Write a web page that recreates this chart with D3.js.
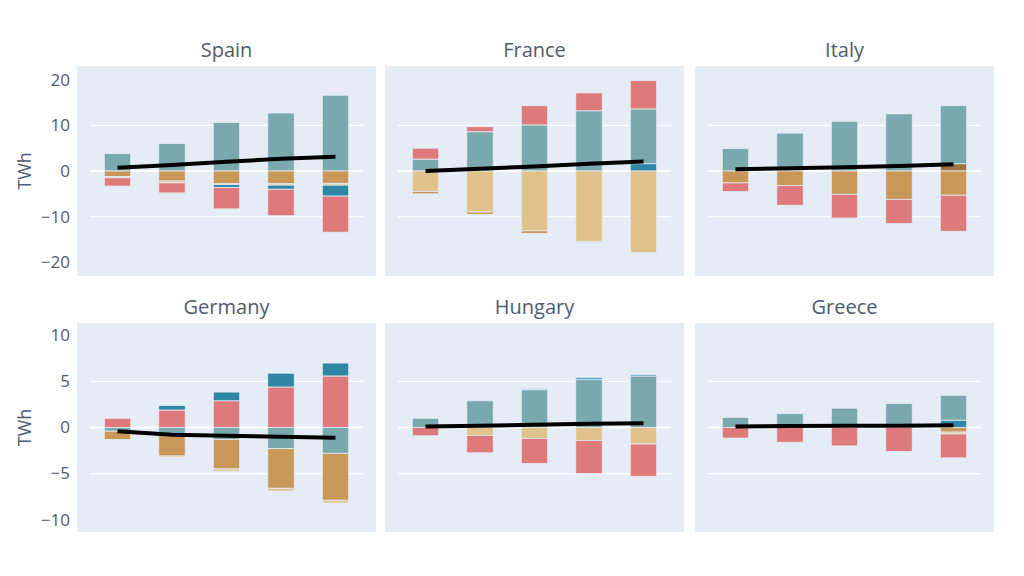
<!DOCTYPE html>
<html>
<head>
<meta charset="utf-8">
<script src="https://cdn.jsdelivr.net/npm/d3@7/dist/d3.min.js"></script>
<style>
  html, body { margin: 0; padding: 0; background: #ffffff; }
  svg { display: block; font-family: "Open Sans", "DejaVu Sans", sans-serif; }
</style>
</head>
<body>
<svg id="chart" width="1024" height="576"></svg>
<script>
// ---------------- data ----------------
const categories = ["1", "2", "3", "4", "5"];
const countries = ["Spain", "France", "Italy", "Germany", "Hungary", "Greece"];

const seriesColors = {
  teal: "#79a9ad",
  red: "#de7a7c",
  ochre: "#c99858",
  sand: "#e0c28c",
  blue: "#2f86a5",
  brown: "#9c7443"
};

// stacked in listed order (positives upward, negatives downward)
const spain = [
  ["teal",  [3.8, 6.0, 10.6, 12.7, 16.6]],
  ["ochre", [-1.2, -2.2, -2.8, -2.8, -2.7]],
  ["sand",  [-0.3, -0.4, -0.2, -0.3, -0.4]],
  ["blue",  [0, 0, -0.6, -0.9, -2.4]],
  ["red",   [-1.8, -2.2, -4.7, -5.8, -7.9]]
];
const france = [
  ["blue",  [0, 0, 0, 0, 1.6]],
  ["teal",  [2.6, 8.6, 10.1, 13.2, 12.0]],
  ["red",   [2.4, 1.1, 4.2, 3.9, 6.2]],
  ["sand",  [-4.5, -9.0, -13.1, -15.4, -17.9]],
  ["ochre", [-0.5, -0.5, -0.6, -0.2, -0.2]]
];
const italy = [
  ["brown", [0, 0, 0, 0, 1.6]],
  ["teal",  [4.9, 8.3, 10.9, 12.5, 12.7]],
  ["ochre", [-2.6, -3.2, -5.1, -6.2, -5.3]],
  ["red",   [-1.9, -4.3, -5.2, -5.3, -7.9]]
];
const germany = [
  ["red",   [1.0, 1.9, 2.9, 4.4, 5.6]],
  ["blue",  [0, 0.5, 0.95, 1.5, 1.4]],
  ["teal",  [-0.4, -0.9, -1.3, -2.3, -2.8]],
  ["ochre", [-0.9, -2.2, -3.2, -4.3, -5.1]],
  ["sand",  [0, -0.15, -0.25, -0.3, -0.3]]
];
const hungary = [
  ["teal",  [1.0, 2.9, 4.1, 5.2, 5.6]],
  ["blue",  [0, 0, 0.1, 0.2, 0.15]],
  ["sand",  [0, -0.85, -1.2, -1.4, -1.8]],
  ["red",   [-0.9, -1.9, -2.7, -3.6, -3.5]]
];
const greece = [
  ["blue",  [0, 0, 0, 0, 0.8]],
  ["teal",  [1.1, 1.5, 2.1, 2.6, 2.7]],
  ["ochre", [0, 0, 0, 0, -0.5]],
  ["sand",  [0, 0, 0, 0, -0.2]],
  ["red",   [-1.15, -1.6, -2.0, -2.6, -2.6]]
];

const netSpain   = [0.7, 1.3, 2.0, 2.7, 3.1];
const netFrance  = [0.0, 0.5, 1.0, 1.6, 2.1];
const netItaly   = [0.4, 0.6, 0.8, 1.1, 1.5];
const netGermany = [-0.4, -0.8, -0.9, -1.0, -1.1];
const netHungary = [0.1, 0.2, 0.3, 0.4, 0.45];
const netGreece  = [0.1, 0.15, 0.2, 0.2, 0.25];

const topTicks = [-20, -10, 0, 10, 20];
const bottomTicks = [-10, -5, 0, 5, 10];
const yLabel = "TWh";

// ---------------- layout ----------------
const stacks = [spain, france, italy, germany, hungary, greece];
const nets = [netSpain, netFrance, netItaly, netGermany, netHungary, netGreece];

const colX = [77, 385, 695];
const panelW = 299;
const rows = [
  { top: 66, bottom: 276, domain: [-23, 23], ticks: topTicks, grid: [-10, 10] },
  { top: 323, bottom: 532, domain: [-11.35, 11.35], ticks: bottomTicks, grid: [-5, 5] }
];
const textColor = "#4f5b6e";
const bg = "#e5ecf6";

const svg = d3.select("#chart");

countries.forEach((name, ci) => {
  const row = rows[Math.floor(ci / 3)];
  const col = ci % 3;
  const L = colX[col];
  const g = svg.append("g");

  const x = d3.scalePoint().domain(categories).range([L + 40.5, L + panelW - 40.5]);
  const barW = x.step() * 0.485;
  const y = d3.scaleLinear().domain(row.domain).range([row.bottom, row.top]);

  // panel background
  g.append("rect")
    .attr("x", L).attr("y", row.top)
    .attr("width", panelW).attr("height", row.bottom - row.top)
    .attr("fill", bg);

  // gridlines
  g.selectAll(".grid").data(row.grid).enter().append("line")
    .attr("x1", L + 13).attr("x2", L + panelW - 13)
    .attr("y1", d => y(d)).attr("y2", d => y(d))
    .attr("stroke", "#ffffff").attr("stroke-width", 1.2);
  g.append("line")
    .attr("x1", L + 13).attr("x2", L + panelW - 13)
    .attr("y1", y(0)).attr("y2", y(0))
    .attr("stroke", "#ffffff").attr("stroke-width", 2.2);

  // stacked bars (relative mode)
  const segs = [];
  categories.forEach((c, i) => {
    let pos = 0, neg = 0;
    stacks[ci].forEach(([key, vals]) => {
      const v = vals[i];
      if (v === 0) return;
      let y0, y1;
      if (v > 0) { y0 = pos; y1 = pos + v; pos = y1; }
      else { y0 = neg; y1 = neg + v; neg = y1; }
      segs.push({ c, key, y0, y1 });
    });
  });
  g.selectAll(".seg").data(segs).enter().append("rect")
    .attr("x", d => x(d.c) - barW / 2)
    .attr("width", barW)
    .attr("y", d => y(Math.max(d.y0, d.y1)))
    .attr("height", d => Math.abs(y(d.y0) - y(d.y1)))
    .attr("fill", d => seriesColors[d.key])
    .attr("stroke", bg).attr("stroke-width", 0.8);

  // net line
  const line = d3.line().x((d, i) => x(categories[i])).y(d => y(d));
  g.append("path")
    .attr("d", line(nets[ci]))
    .attr("fill", "none")
    .attr("stroke", "#000000")
    .attr("stroke-width", 4)
    .attr("stroke-linejoin", "round");

  // subplot title
  g.append("text")
    .attr("x", L + panelW / 2).attr("y", row.top - 9)
    .attr("text-anchor", "middle")
    .attr("font-size", 20)
    .attr("fill", textColor)
    .text(name);

  // y axis on first column
  if (col === 0) {
    const axis = d3.axisLeft(y).tickValues(row.ticks).tickSize(0).tickPadding(0)
      .tickFormat(d => d < 0 ? "\u2212" + Math.abs(d) : String(d));
    const ag = g.append("g").attr("transform", `translate(${L - 7},0)`).call(axis);
    ag.select(".domain").remove();
    ag.selectAll("text")
      .attr("font-size", 17)
      .attr("font-family", "\"Open Sans\", sans-serif")
      .attr("fill", textColor);
    g.append("text")
      .attr("transform", `translate(31,${(row.top + row.bottom) / 2}) rotate(-90)`)
      .attr("text-anchor", "middle")
      .attr("font-size", 18)
      .attr("fill", textColor)
      .text(yLabel);
  }
});
</script>
</body>
</html>
